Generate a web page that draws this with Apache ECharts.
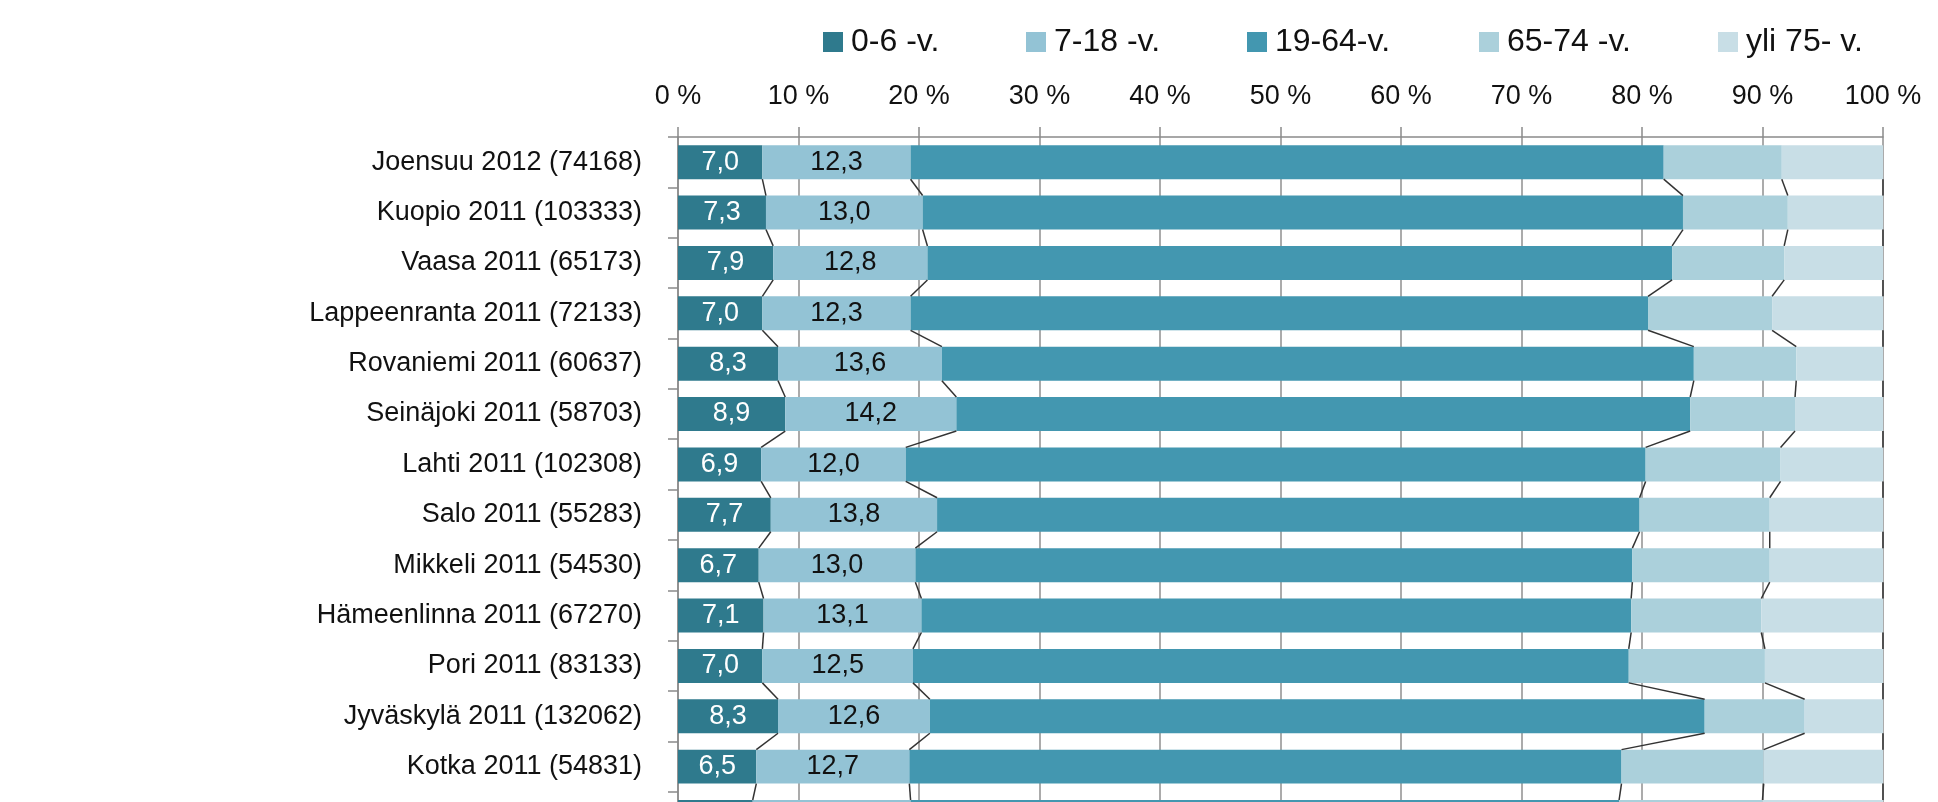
<!DOCTYPE html>
<html>
<head>
<meta charset="utf-8">
<script src="https://cdn.jsdelivr.net/npm/echarts@6/dist/echarts.min.js"></script>
<style>
html,body{margin:0;padding:0;background:#fff;overflow:hidden;}
#chart{width:1938px;height:900px;}
</style>
</head>
<body>
<div id="chart"></div>
<script>
const categories = [
  'Joensuu 2012 (74168)', 'Kuopio 2011 (103333)', 'Vaasa 2011 (65173)',
  'Lappeenranta 2011 (72133)', 'Rovaniemi 2011 (60637)', 'Seinäjoki 2011 (58703)',
  'Lahti 2011 (102308)', 'Salo 2011 (55283)', 'Mikkeli 2011 (54530)',
  'Hämeenlinna 2011 (67270)', 'Pori 2011 (83133)', 'Jyväskylä 2011 (132062)',
  'Kotka 2011 (54831)', ''
];
const seriesNames = ['0-6 -v.', '7-18 -v.', '19-64-v.', '65-74 -v.', 'yli 75- v.'];
const v0_6   = [7.0, 7.3, 7.9, 7.0, 8.3, 8.9, 6.9, 7.7, 6.7, 7.1, 7.0, 8.3, 6.5, 6.2];
const v7_18  = [12.3, 13.0, 12.8, 12.3, 13.6, 14.2, 12.0, 13.8, 13.0, 13.1, 12.5, 12.6, 12.7, 13.1];
const v19_64 = [62.5, 63.1, 61.8, 61.2, 62.4, 60.9, 61.4, 58.3, 59.5, 58.9, 59.4, 64.3, 59.1, 58.8];
const v65_74 = [9.8, 8.7, 9.3, 10.3, 8.5, 8.7, 11.2, 10.8, 11.4, 10.8, 11.3, 8.3, 11.8, 11.9];
const v75    = [8.4, 7.9, 8.2, 9.2, 7.2, 7.3, 8.5, 9.4, 9.4, 10.1, 9.8, 6.5, 9.9, 10.0];
const xTicks = [0, 10, 20, 30, 40, 50, 60, 70, 80, 90, 100];

const allValues = [v0_6, v7_18, v19_64, v65_74, v75];
const colors = ['#2f7a8d', '#93c3d5', '#4397b0', '#abd0db', '#c8dee6'];
const legendLeft = [823, 1026, 1247, 1479, 1718];
const FONT = 'Liberation Sans';
const GAP = 0.325;
const ROW = 50.37;

// cumulative ends for series lines
const cum = categories.map((c, i) => {
  let s = 0; const out = [];
  for (let k = 0; k < 5; k++) { s += allValues[k][i]; out.push(Math.min(s, 100)); }
  return out;
});
const lineData = [];
for (let i = 0; i < categories.length - 1; i++) {
  lineData.push([i].concat(cum[i], cum[i + 1]));
}

const fmt = v => v.toFixed(1).replace('.', ',');

const barSeries = allValues.map((vals, k) => ({
  name: seriesNames[k],
  type: 'bar',
  stack: 'total',
  barCategoryGap: (GAP * 100) + '%',
  data: vals,
  itemStyle: { color: colors[k] },
  label: k < 2 ? {
    show: true,
    position: 'inside',
    formatter: p => fmt(p.value),
    color: k === 0 ? '#ffffff' : '#111111',
    fontFamily: FONT,
    fontSize: 27
  } : { show: false },
  emphasis: { disabled: true },
  z: 3
}));

const seriesLines = {
  type: 'custom',
  name: 'serieslines',
  data: lineData,
  encode: { x: [1, 2, 3, 4, 5, 6, 7, 8, 9, 10], y: 0 },
  renderItem: function (params, api) {
    const i = api.value(0);
    const band = api.size([0, 1])[1];
    const half = band * (1 - GAP) / 2;
    const children = [];
    for (let s = 0; s < 5; s++) {
      const a = api.coord([api.value(1 + s), i]);
      const b = api.coord([api.value(6 + s), i + 1]);
      children.push({
        type: 'line',
        shape: { x1: a[0], y1: a[1] + half, x2: b[0], y2: b[1] - half },
        style: { stroke: '#333333', lineWidth: 1.5 }
      });
    }
    return { type: 'group', children: children };
  },
  z: 4,
  silent: true
};

const legends = seriesNames.map((n, k) => ({
  data: [n],
  left: legendLeft[k],
  top: 26,
  padding: 0,
  itemWidth: 20,
  itemHeight: 20,
  icon: 'rect',
  selectedMode: false,
  textStyle: { fontFamily: FONT, fontSize: 32, color: '#111111', padding: [0, 0, 0, 3] }
}));

const chart = echarts.init(document.getElementById('chart'), null, { renderer: 'canvas' });
chart.setOption({
  animation: false,
  backgroundColor: '#ffffff',
  legend: legends,
  grid: {
    left: 678,
    top: 137,
    width: 1205,
    height: ROW * categories.length
  },
  xAxis: {
    type: 'value',
    position: 'top',
    min: xTicks[0],
    max: xTicks[xTicks.length - 1],
    interval: 10,
    axisLine: { show: true, lineStyle: { color: '#8a8a8a', width: 1.5 } },
    axisTick: { show: true, length: 10, lineStyle: { color: '#8a8a8a', width: 1.5 } },
    splitLine: { show: true, lineStyle: { color: '#8f8f8f', width: 1.5 } },
    axisLabel: {
      formatter: v => v + ' %',
      fontFamily: FONT,
      fontSize: 27,
      color: '#111111',
      margin: 27
    }
  },
  yAxis: {
    type: 'category',
    inverse: true,
    data: categories,
    axisLine: { show: true, lineStyle: { color: '#8a8a8a', width: 1.5 } },
    axisTick: { show: true, length: 10, lineStyle: { color: '#8a8a8a', width: 1.5 } },
    axisLabel: {
      fontFamily: FONT,
      fontSize: 27,
      color: '#111111',
      margin: 36
    }
  },
  series: barSeries.concat([seriesLines])
});
</script>
</body>
</html>
